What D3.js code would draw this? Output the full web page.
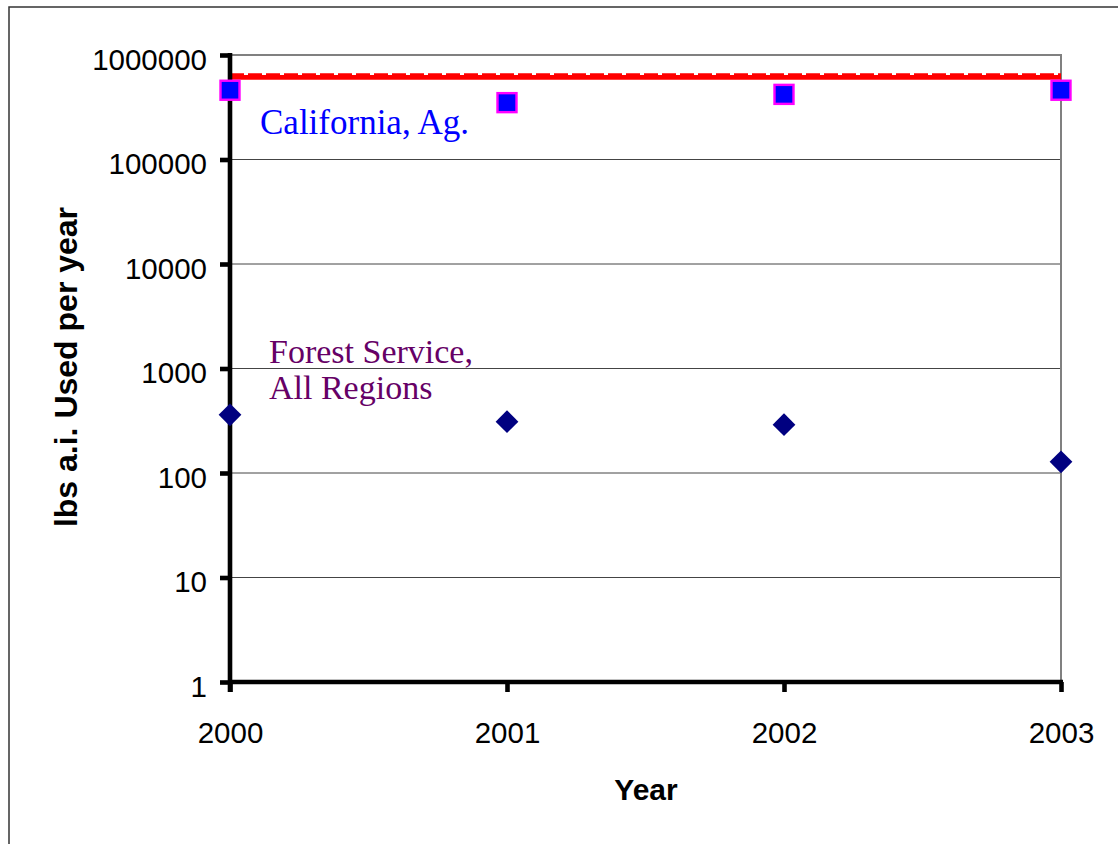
<!DOCTYPE html>
<html>
<head>
<meta charset="utf-8">
<script src="https://cdn.jsdelivr.net/npm/d3@7"></script>
<style>
  html, body { margin: 0; padding: 0; background: #fff; }
  svg { display: block; }
</style>
</head>
<body>
<svg id="chart" width="1118" height="844"></svg>
<script>
// Years on the horizontal axis
const years = [2000, 2001, 2002, 2003];
// California agricultural use (lbs a.i. per year)
const californiaAg = [460000, 350000, 420000, 460000];
// Forest Service use, all regions (lbs a.i. per year)
const forestService = [360, 310, 290, 128];
// Red reference levels drawn across the top of the plot
const refSolid = [612000, 612000, 612000, 612000];
const refDashed = [655000, 655000, 655000, 655000];
// Log-axis tick values
const yTicks = [1, 10, 100, 1000, 10000, 100000, 1000000];

const svg = d3.select("#chart");
const sans = "'Liberation Sans', Arial, sans-serif";
const serif = "'Liberation Serif', 'Times New Roman', serif";

const plotLeft = 230, plotRight = 1061, plotTop = 55, plotBottom = 682;

const x = d3.scaleLinear().domain([2000, 2003]).range([plotLeft, plotRight]);
const y = d3.scaleLog().domain([1, 1000000]).range([plotBottom, plotTop]);

// Outer chart frame
svg.append("rect")
  .attr("x", 9).attr("y", 7)
  .attr("width", 1130).attr("height", 860)
  .attr("fill", "none").attr("stroke", "#333").attr("stroke-width", 1.5);

// Horizontal gridlines
svg.append("g").selectAll("line")
  .data(yTicks.filter(d => d > 1 && d < 1000000))
  .join("line")
  .attr("x1", plotLeft).attr("x2", plotRight)
  .attr("y1", d => y(d)).attr("y2", d => y(d))
  .attr("stroke", "#444").attr("stroke-width", 1);

// Plot area border (top and right)
svg.append("path")
  .attr("d", `M${plotLeft},${y(1000000)}H${plotRight}V${plotBottom}`)
  .attr("fill", "none").attr("stroke", "#808080").attr("stroke-width", 2);

// Red reference lines
const line = d3.line().x((d, i) => x(years[i])).y(d => y(d));
svg.append("path")
  .datum(refSolid)
  .attr("d", line)
  .attr("fill", "none").attr("stroke", "#ff0000").attr("stroke-width", 4.8);
svg.append("path")
  .datum(refDashed)
  .attr("d", line)
  .attr("fill", "none").attr("stroke", "#ff0000").attr("stroke-width", 2)
  .attr("stroke-dasharray", "14,4");

// Y axis
const yAxis = svg.append("g")
  .attr("transform", `translate(${plotLeft},0)`)
  .call(d3.axisLeft(y).tickValues(yTicks).tickFormat(d3.format("d"))
    .tickSize(10).tickSizeOuter(0).tickPadding(13));
yAxis.select(".domain").attr("stroke", "#000").attr("stroke-width", 4.6)
  .attr("d", `M0,${plotTop - 2}V${plotBottom + 10}`);
yAxis.selectAll(".tick line").attr("stroke", "#000").attr("stroke-width", 4.6);
yAxis.selectAll(".tick text")
  .attr("font-family", sans).attr("font-size", 29.5).attr("fill", "#000")
  .attr("dy", "0.48em");

// X axis
const xAxis = svg.append("g")
  .attr("transform", `translate(0,${plotBottom})`)
  .call(d3.axisBottom(x).tickValues(years).tickFormat(d3.format("d"))
    .tickSize(10).tickSizeOuter(0));
xAxis.select(".domain").attr("stroke", "#000").attr("stroke-width", 4.6)
  .attr("d", `M${plotLeft},0H${plotRight + 2}`);
xAxis.selectAll(".tick line").attr("stroke", "#000").attr("stroke-width", 4.6);
xAxis.selectAll(".tick text")
  .attr("font-family", sans).attr("font-size", 29.5).attr("fill", "#000")
  .attr("y", 61).attr("dy", 0);

// Axis titles
svg.append("text")
  .attr("transform", "translate(77,367) rotate(-90)")
  .attr("text-anchor", "middle")
  .attr("font-family", sans).attr("font-weight", "bold").attr("font-size", 32)
  .text("lbs a.i. Used per year");
svg.append("text")
  .attr("x", 646).attr("y", 800)
  .attr("text-anchor", "middle")
  .attr("font-family", sans).attr("font-weight", "bold").attr("font-size", 30)
  .text("Year");

// California markers: blue squares with magenta outline
const sq = 19;
svg.append("g").selectAll("rect")
  .data(californiaAg)
  .join("rect")
  .attr("x", (d, i) => x(years[i]) - sq / 2)
  .attr("y", d => y(d) - sq / 2)
  .attr("width", sq).attr("height", sq)
  .attr("fill", "#0000ff").attr("stroke", "#ff00ff").attr("stroke-width", 2.4);

// Forest Service markers: navy diamonds
const diamond = d3.symbol().type(d3.symbolDiamond2).size(330);
svg.append("g").selectAll("path")
  .data(forestService)
  .join("path")
  .attr("transform", (d, i) => `translate(${x(years[i])},${y(d)})`)
  .attr("d", diamond)
  .attr("fill", "#000080");

// Series labels
svg.append("text")
  .attr("x", 260).attr("y", 134)
  .attr("font-family", serif).attr("font-size", 35).attr("fill", "#0000ff")
  .text("California, Ag.");
const fs = svg.append("text")
  .attr("font-family", serif).attr("font-size", 34).attr("fill", "#660066");
fs.append("tspan").attr("x", 269).attr("y", 363).text("Forest Service,");
fs.append("tspan").attr("x", 269).attr("y", 399).text("All Regions");
</script>
</body>
</html>
